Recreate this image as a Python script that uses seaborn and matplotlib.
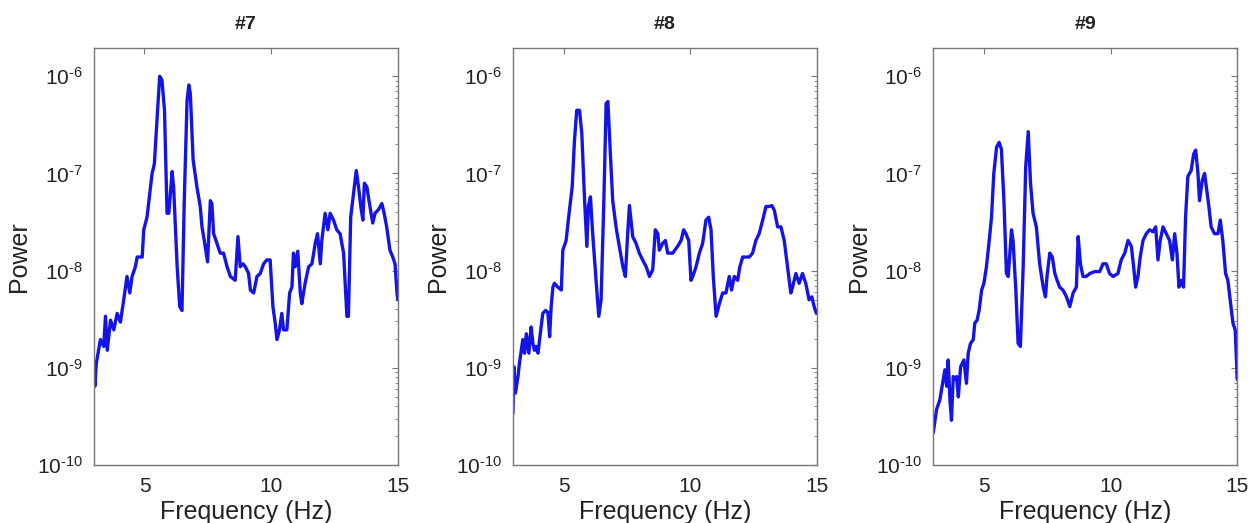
import numpy as np
import pandas as pd
import seaborn as sns
import matplotlib
matplotlib.use("Agg")
from matplotlib import pyplot as plt
from matplotlib.ticker import LogLocator, FixedLocator, FuncFormatter

# Data: frequency (Hz) and log10(power)
freq7 = [3.0, 3.04, 3.1, 3.26, 3.39, 3.46, 3.53, 3.66, 3.79, 3.92, 4.05, 4.18, 4.31, 4.42, 4.51,
         4.64, 4.71, 4.91, 4.97, 5.10, 5.30, 5.39, 5.50, 5.60, 5.69, 5.79, 5.89, 5.96, 6.09, 6.15,
         6.29, 6.39, 6.48, 6.57, 6.68, 6.75, 6.81, 6.92, 7.07, 7.20, 7.27, 7.36, 7.49, 7.60, 7.66,
         7.73, 7.86, 7.99, 8.12, 8.26, 8.39, 8.58, 8.69, 8.78, 8.89, 8.98, 9.11, 9.18, 9.31, 9.44,
         9.57, 9.70, 9.83, 9.96, 10.07, 10.16, 10.23, 10.33, 10.42, 10.49, 10.62, 10.73, 10.82,
         10.88, 10.95, 11.05, 11.15, 11.21, 11.34, 11.48, 11.61, 11.74, 11.83, 11.94, 12.00,
         12.13, 12.24, 12.33, 12.46, 12.59, 12.72, 12.86, 12.99, 13.05, 13.14, 13.25, 13.36,
         13.45, 13.54, 13.62, 13.68, 13.78, 13.88, 14.01, 14.10, 14.24, 14.37, 14.46, 14.56,
         14.69, 14.80, 14.89, 14.96, 15.0]
logp7 = [-8.99, -9.19, -8.95, -8.71, -8.78, -8.47, -8.82, -8.51, -8.61, -8.44, -8.53, -8.30, -8.06,
         -8.23, -8.06, -7.96, -7.86, -7.86, -7.58, -7.45, -7.00, -6.90, -6.42, -6.00, -6.04, -6.35,
         -7.41, -7.41, -6.98, -7.14, -7.96, -8.37, -8.41, -7.28, -6.25, -6.09, -6.18, -6.86, -7.14,
         -7.34, -7.55, -7.69, -7.91, -7.28, -7.31, -7.62, -7.72, -7.82, -7.82, -7.96, -8.06, -8.10,
         -7.65, -7.96, -7.93, -7.96, -8.03, -8.20, -8.23, -8.06, -8.03, -7.93, -7.89, -7.89, -8.37,
         -8.54, -8.71, -8.61, -8.44, -8.61, -8.61, -8.23, -8.17, -7.82, -7.96, -7.80, -8.23, -8.34,
         -8.13, -7.96, -7.93, -7.72, -7.62, -7.93, -7.69, -7.41, -7.58, -7.41, -7.48, -7.58, -7.62,
         -7.82, -8.47, -8.47, -7.45, -7.21, -6.97, -7.14, -7.34, -7.48, -7.10, -7.14, -7.31, -7.51,
         -7.41, -7.37, -7.31, -7.41, -7.55, -7.79, -7.86, -7.93, -8.20, -8.30]

freq8 = [3.0, 3.04, 3.1, 3.2, 3.26, 3.39, 3.46, 3.53, 3.63, 3.72, 3.79, 3.85, 3.92, 3.99, 4.08,
         4.18, 4.29, 4.38, 4.45, 4.51, 4.58, 4.64, 4.77, 4.91, 4.97, 5.10, 5.23, 5.34, 5.43, 5.52,
         5.63, 5.72, 5.83, 5.92, 5.98, 6.06, 6.15, 6.29, 6.39, 6.48, 6.59, 6.68, 6.75, 6.84, 6.94,
         7.07, 7.20, 7.34, 7.44, 7.53, 7.60, 7.73, 7.86, 7.99, 8.12, 8.26, 8.39, 8.52, 8.62, 8.72,
         8.78, 8.91, 9.02, 9.11, 9.31, 9.50, 9.64, 9.74, 9.83, 9.94, 10.03, 10.10, 10.23, 10.36,
         10.49, 10.62, 10.73, 10.82, 10.91, 11.02, 11.15, 11.28, 11.41, 11.54, 11.63, 11.74,
         11.87, 11.96, 12.07, 12.20, 12.33, 12.46, 12.59, 12.72, 12.86, 12.99, 13.12, 13.22,
         13.32, 13.45, 13.58, 13.71, 13.84, 13.97, 14.04, 14.17, 14.30, 14.43, 14.56, 14.69,
         14.80, 14.89, 14.98]
logp8 = [-9.47, -8.99, -9.26, -9.09, -8.95, -8.71, -8.85, -8.65, -8.85, -8.58, -8.75, -8.82, -8.78,
         -8.85, -8.65, -8.44, -8.41, -8.43, -8.68, -8.37, -8.17, -8.13, -8.17, -8.20, -7.79, -7.69,
         -7.38, -7.14, -6.66, -6.35, -6.35, -6.59, -7.28, -7.75, -7.34, -7.24, -7.62, -8.13, -8.47,
         -8.30, -7.28, -6.28, -6.26, -6.76, -7.28, -7.55, -7.75, -7.96, -8.06, -7.62, -7.33, -7.65,
         -7.72, -7.82, -7.89, -7.96, -8.06, -7.99, -7.58, -7.62, -7.79, -7.72, -7.69, -7.82, -7.82,
         -7.75, -7.69, -7.58, -7.62, -7.69, -8.10, -8.06, -7.96, -7.82, -7.72, -7.48, -7.45, -7.58,
         -8.06, -8.47, -8.34, -8.23, -8.23, -8.06, -8.20, -8.06, -8.10, -7.96, -7.86, -7.86, -7.86,
         -7.82, -7.69, -7.62, -7.48, -7.34, -7.34, -7.33, -7.38, -7.55, -7.55, -7.69, -7.96, -8.23,
         -8.17, -8.03, -8.13, -8.03, -8.13, -8.30, -8.27, -8.37, -8.44]

freq9 = [3.0, 3.13, 3.26, 3.37, 3.46, 3.53, 3.59, 3.66, 3.72, 3.79, 3.85, 3.92, 3.99, 4.08, 4.21,
         4.31, 4.38, 4.47, 4.58, 4.64, 4.73, 4.81, 4.91, 5.00, 5.10, 5.21, 5.30, 5.39, 5.50, 5.60,
         5.69, 5.79, 5.89, 5.96, 6.09, 6.15, 6.26, 6.35, 6.44, 6.55, 6.65, 6.75, 6.84, 6.94, 7.07,
         7.20, 7.34, 7.43, 7.49, 7.60, 7.70, 7.80, 7.89, 7.99, 8.12, 8.26, 8.39, 8.52, 8.65, 8.72,
         8.81, 8.91, 9.04, 9.18, 9.37, 9.57, 9.70, 9.83, 9.96, 10.10, 10.29, 10.42, 10.56, 10.69,
         10.82, 10.91, 10.99, 11.08, 11.17, 11.28, 11.41, 11.54, 11.67, 11.78, 11.87, 11.96,
         12.07, 12.20, 12.33, 12.44, 12.53, 12.62, 12.70, 12.79, 12.88, 12.96, 13.05, 13.18,
         13.28, 13.36, 13.45, 13.51, 13.62, 13.71, 13.78, 13.88, 13.97, 14.10, 14.24, 14.33,
         14.43, 14.54, 14.63, 14.72, 14.83, 14.92, 15.0]
logp9 = [-9.67, -9.43, -9.33, -9.16, -9.02, -9.19, -8.92, -9.33, -9.54, -9.09, -9.12, -9.09, -9.30,
         -8.99, -8.92, -9.16, -8.85, -8.75, -8.71, -8.54, -8.51, -8.41, -8.20, -8.13, -7.96, -7.69,
         -7.45, -7.00, -6.73, -6.68, -6.75, -7.28, -8.03, -8.06, -7.58, -7.69, -8.20, -8.75, -8.78,
         -7.96, -6.93, -6.57, -7.10, -7.41, -7.55, -7.93, -8.17, -8.27, -8.06, -7.82, -7.86, -8.03,
         -8.10, -8.17, -8.20, -8.27, -8.37, -8.23, -8.17, -7.65, -7.93, -8.06, -8.06, -8.03, -8.01,
         -8.01, -7.93, -7.93, -8.03, -8.06, -8.03, -7.89, -7.82, -7.69, -7.75, -7.96, -8.17, -8.06,
         -7.86, -7.69, -7.62, -7.58, -7.60, -7.55, -7.89, -7.69, -7.55, -7.62, -7.69, -7.89, -7.62,
         -7.82, -8.17, -8.10, -8.17, -7.45, -7.03, -6.97, -6.80, -6.76, -7.00, -7.28, -7.07, -7.00,
         -7.14, -7.34, -7.55, -7.62, -7.62, -7.48, -7.69, -8.03, -8.10, -8.30, -8.54, -8.61, -9.12]

titles = ["#7", "#8", "#9"]
series = [(freq7, logp7), (freq8, logp8), (freq9, logp9)]

sns.set_theme(style="white")
plt.rcParams['font.family'] = ['Liberation Sans', 'DejaVu Sans']
plt.rcParams['mathtext.fontset'] = 'custom'
plt.rcParams['mathtext.rm'] = 'Liberation Sans'
plt.rcParams['mathtext.it'] = 'Liberation Sans'
plt.rcParams['mathtext.default'] = 'regular'


def pow_label(v, pos):
    e = int(round(np.log10(v)))
    # plain hyphen in the exponent, as in the original
    return r'$10^{\text{-}%d}$' % abs(e) if e < 0 else r'$10^{%d}$' % e


fig = plt.figure(figsize=(12.51, 5.23), dpi=100)
lefts = [0.075, 0.410, 0.746]

for left, title, (f, lp) in zip(lefts, titles, series):
    ax = fig.add_axes([left, 0.111, 0.243, 0.797])
    df = pd.DataFrame({'Frequency': f, 'Power': 10.0 ** np.array(lp)})
    sns.lineplot(data=df, x='Frequency', y='Power', ax=ax, color='#1414e6',
                 linewidth=2.4, estimator=None, sort=False)
    ax.set_yscale('log')
    ax.set_xlim(3, 15)
    ax.set_ylim(1e-10, 1.95e-6)
    ax.set_xticks([5, 10, 15])
    ax.yaxis.set_major_locator(FixedLocator([1e-10, 1e-9, 1e-8, 1e-7, 1e-6]))
    ax.yaxis.set_major_formatter(FuncFormatter(pow_label))
    ax.yaxis.set_minor_locator(LogLocator(base=10, subs=np.arange(2, 10), numticks=20))
    ax.tick_params(which='both', direction='in', top=True, right=True,
                   color='#777777', labelsize=15, labelcolor='#222222')
    ax.tick_params(which='major', length=4, width=0.8)
    ax.tick_params(which='minor', length=2, width=0.6)
    ax.tick_params(axis='x', which='major', pad=8.5)
    ax.tick_params(axis='y', which='major', pad=8)
    for s in ax.spines.values():
        s.set_color('#777777')
        s.set_linewidth(1.0)
    ax.set_xlabel('Frequency (Hz)', fontsize=18, color='#222222', labelpad=3)
    ax.set_ylabel('Power', fontsize=18, color='#222222', labelpad=4)
    ax.set_title(title, fontsize=14, fontweight='bold', color='#222222', pad=14)

fig.savefig('out.png', dpi=100)
